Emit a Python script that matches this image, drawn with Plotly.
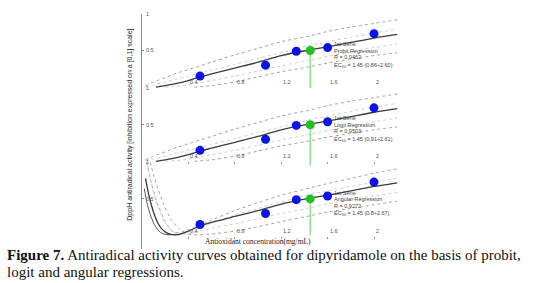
import plotly.graph_objects as go

# ---------------- data ----------------
conc = [0.5, 1.065, 1.33, 1.6, 2.0]           # mg/mL
inhib = [0.15, 0.30, 0.49, 0.54, 0.73]          # inhibition on [0,1] scale
ec50_x = 1.45
ec50_y = 0.5

x_ticks = [0.4, 0.8, 1.2, 1.6, 2.0]
x_ticktext = ["0.4", "0.8", "1.2", "1.6", "2"]
y_ticks = [0.5, 1.0]
y_ticktext = ["0.5", "1"]

# fitted curve (probit / logit) and its bands
fit_x = [0.12, 0.2, 0.3, 0.4, 0.5, 0.6, 0.8, 1.0, 1.2, 1.45, 1.6, 1.8, 2.0, 2.2]
fit_y = [0.0, 0.02, 0.05, 0.09, 0.14, 0.18, 0.26, 0.34, 0.43, 0.51, 0.55, 0.61, 0.67, 0.72]
band_x = [0.03, 0.1, 0.2, 0.3, 0.4, 0.5, 0.6, 0.8, 1.0, 1.2, 1.45, 1.6, 1.8, 2.0, 2.2]
outer_up = [0.02, 0.07, 0.13, 0.19, 0.24, 0.29, 0.34, 0.44, 0.53, 0.62, 0.70, 0.76, 0.82, 0.87, 0.92]
inner_up = [0.01, 0.03, 0.07, 0.11, 0.15, 0.19, 0.23, 0.31, 0.39, 0.47, 0.57, 0.62, 0.68, 0.74, 0.79]
inlow_x = [0.2, 0.3, 0.4, 0.5, 0.6, 0.8, 1.0, 1.2, 1.45, 1.6, 1.8, 2.0, 2.2]
inner_low = [0.0, 0.01, 0.03, 0.06, 0.09, 0.15, 0.22, 0.29, 0.37, 0.42, 0.48, 0.54, 0.59]
outlow_x = [0.45, 0.6, 0.8, 1.0, 1.2, 1.45, 1.6, 1.8, 2.0, 2.2]
outer_low = [0.0, 0.02, 0.07, 0.14, 0.21, 0.28, 0.33, 0.38, 0.43, 0.47]

# angular regression curves (fold back at low concentration)
ang_x = [0.03, 0.05, 0.08, 0.11, 0.14, 0.17, 0.2, 0.24, 0.28, 0.33, 0.4, 0.5, 0.6, 0.8, 1.0, 1.2, 1.45, 1.6, 1.8, 2.0, 2.2]
ang_y = [0.78, 0.62, 0.42, 0.27, 0.16, 0.09, 0.05, 0.02, 0.01, 0.02, 0.06, 0.13, 0.18, 0.26, 0.34, 0.43, 0.51, 0.55, 0.61, 0.67, 0.72]
ang2_x = [0.02, 0.04, 0.07, 0.1, 0.13, 0.16, 0.2, 0.25]
ang2_y = [0.64, 0.46, 0.29, 0.17, 0.09, 0.04, 0.015, 0.01]
ang_up_x = [0.04, 0.08, 0.13, 0.19, 0.24, 0.28, 0.33, 0.4, 0.5, 0.6, 0.8, 1.0, 1.2, 1.45, 1.6, 1.8, 2.0, 2.2]
ang_up = [1.0, 0.72, 0.45, 0.22, 0.09, 0.04, 0.04, 0.08, 0.14, 0.21, 0.34, 0.45, 0.55, 0.65, 0.71, 0.78, 0.85, 0.91]
ang_iup_x = [0.05, 0.09, 0.14, 0.2, 0.25, 0.3, 0.35, 0.42, 0.5, 0.6, 0.8, 1.0, 1.2, 1.45, 1.6, 1.8, 2.0, 2.2]
ang_iup = [0.95, 0.65, 0.38, 0.17, 0.07, 0.03, 0.03, 0.06, 0.11, 0.17, 0.28, 0.37, 0.46, 0.56, 0.61, 0.67, 0.73, 0.78]
ang_ilow_x = [0.3, 0.4, 0.5, 0.6, 0.8, 1.0, 1.2, 1.45, 1.6, 1.8, 2.0, 2.2]
ang_ilow = [0.0, 0.02, 0.06, 0.1, 0.16, 0.23, 0.3, 0.38, 0.43, 0.49, 0.54, 0.59]
ang_low_x = [0.07, 0.12, 0.18, 0.25, 0.32, 0.38, 0.44, 0.5, 0.6, 0.8, 1.0, 1.2, 1.45, 1.6, 1.8, 2.0, 2.2]
ang_low = [1.0, 0.72, 0.45, 0.22, 0.09, 0.03, 0.01, 0.01, 0.02, 0.06, 0.12, 0.19, 0.27, 0.32, 0.37, 0.42, 0.47]

panel_texts = [
    ["1st Serie", "Probit Regression", "R = 0.9462", "EC<sub>50</sub> = 1.45 (0.86÷2.60)"],
    ["1st Serie", "Logit Regression", "R = 0.9503", "EC<sub>50</sub> = 1.45 (0.91÷2.61)"],
    ["1st Serie", "Angular Regression", "R = 0.9272", "EC<sub>50</sub> = 1.45 (0.8÷2.67)"],
]

# ---------------- layout geometry ----------------
W, H = 534, 283
L, R = 142, 136
PXU_X = 116.0
PXU_Y = 74.0
bases = [85, 160, 235]
bottoms = [-0.06, -0.06, -0.18]

fig = go.Figure()

OUT_C = "#a2a2a2"
IN_C = "#cfcfc0"
FIT_C = "#3a3a3a"
TICK_FONT = dict(family="Liberation Sans, Arial", size=5.5, color="#555")


def add_line(x, y, k, color, dash, width, smoothing=0.7):
    fig.add_trace(go.Scatter(x=x, y=y, mode="lines", xaxis="x" if k == 1 else f"x{k}",
                             yaxis="y" if k == 1 else f"y{k}",
                             line=dict(color=color, dash=dash, width=width, shape="spline", smoothing=smoothing),
                             hoverinfo="skip", showlegend=False))


for i in range(3):
    k = i + 1
    if i < 2:
        add_line(band_x, outer_up, k, OUT_C, "dot", 1)
        add_line(band_x, inner_up, k, IN_C, "dot", 1)
        add_line(inlow_x, inner_low, k, IN_C, "dot", 1)
        add_line(outlow_x, outer_low, k, OUT_C, "dot", 1)
        add_line(fit_x, fit_y, k, FIT_C, "solid", 1.3)
    else:
        add_line(ang_up_x, ang_up, k, OUT_C, "dot", 1, 0.4)
        add_line(ang_iup_x, ang_iup, k, IN_C, "dot", 1, 0.4)
        add_line(ang_ilow_x, ang_ilow, k, IN_C, "dot", 1, 0.4)
        add_line(ang_low_x, ang_low, k, OUT_C, "dot", 1, 0.4)
        add_line(ang2_x, ang2_y, k, "#555555", "solid", 1.0, 0.4)
        add_line(ang_x, ang_y, k, FIT_C, "solid", 1.3, 0.4)
    xa = "x" if k == 1 else f"x{k}"
    ya = "y" if k == 1 else f"y{k}"
    # EC50 drop line
    fig.add_trace(go.Scatter(x=[ec50_x, ec50_x], y=[ec50_y, bottoms[i] if i < 2 else 0.0], mode="lines",
                             xaxis=xa, yaxis=ya, line=dict(color="#5fd35f", width=1),
                             hoverinfo="skip", showlegend=False))
    fig.add_trace(go.Scatter(x=conc, y=inhib, mode="markers", xaxis=xa, yaxis=ya,
                             marker=dict(color="#0a14e6", size=9, line=dict(width=0)),
                             hoverinfo="skip", showlegend=False))
    fig.add_trace(go.Scatter(x=[ec50_x], y=[ec50_y], mode="markers", xaxis=xa, yaxis=ya,
                             marker=dict(color="#1fc21f", size=9, line=dict(width=0)),
                             hoverinfo="skip", showlegend=False))

    # regression info text
    for j, t in enumerate(panel_texts[i]):
        fig.add_annotation(x=1.64, y=0.585 - j * 0.088 - (0.02 if j == 3 else 0), xref=xa, yref=ya,
                           text=t, showarrow=False, xanchor="left", yanchor="middle",
                           font=dict(family="Liberation Sans, Arial", size=5.5, color="#444"))

    # x tick labels, drawn just above each panel's baseline at the tick values
    for tv, tt in zip(x_ticks, x_ticktext):
        fig.add_annotation(x=tv, y=0.0, xref=xa, yref=ya, text=tt, showarrow=False,
                           xanchor="left", yanchor="bottom", xshift=0, yshift=0,
                           font=TICK_FONT)

layout = dict(
    width=W, height=H,
    margin=dict(l=L, r=R, t=0, b=0, pad=0),
    paper_bgcolor="white", plot_bgcolor="white",
    showlegend=False,
)

xrange = [0, (W - L - R) / PXU_X]
for i in range(3):
    k = i + 1
    base = bases[i]
    r0 = bottoms[i]
    top_px = base - PXU_Y
    bot_px = base - PXU_Y * r0
    dom = [1 - bot_px / H, 1 - top_px / H]
    ykey = "yaxis" if k == 1 else f"yaxis{k}"
    xkey = "xaxis" if k == 1 else f"xaxis{k}"
    layout[ykey] = dict(domain=dom, range=[r0, 1.0], anchor="x" if k == 1 else f"x{k}",
                        showline=True, linecolor="#8a8a8a", linewidth=1,
                        tickvals=y_ticks, ticktext=y_ticktext, ticks="inside", ticklen=2,
                        tickcolor="#8a8a8a", ticklabelposition="inside", ticklabeloverflow="allow",
                        tickfont=TICK_FONT,
                        showgrid=False, zeroline=False, fixedrange=True)
    xa = dict(range=xrange, anchor="free", position=1 - base / H,
              showline=False, showgrid=False, zeroline=False,
              tickvals=x_ticks, ticks="outside", ticklen=2, tickcolor="#999",
              showticklabels=False, fixedrange=True)
    if k != 1:
        xa["matches"] = "x"
    layout[xkey] = xa

fig.update_layout(**layout)

# axis titles and caption
fig.add_annotation(xref="paper", yref="paper", x=(130 - L) / (W - L - R), y=1 - 123 / H,
                   text="DppH antiradical activity [inhibition expressed on a [0,1] scale]",
                   textangle=-90, showarrow=False, xanchor="center", yanchor="middle",
                   font=dict(family="Liberation Sans, Arial", size=7, color="#222"))
fig.add_annotation(xref="paper", yref="paper", x=(258 - L) / (W - L - R), y=1 - 241 / H,
                   text="Antioxidant concentration(mg/mL)", showarrow=False,
                   xanchor="center", yanchor="middle",
                   font=dict(family="Liberation Serif, Times New Roman", size=7.5, color="#222"))
fig.add_annotation(xref="paper", yref="paper", x=(5 - L) / (W - L - R), y=1 - 255 / H,
                   text="<b>Figure 7.</b> Antiradical activity curves obtained for dipyridamole on the basis of probit,",
                   showarrow=False, xanchor="left", yanchor="middle",
                   font=dict(family="Liberation Serif, Times New Roman", size=15, color="#111"))
fig.add_annotation(xref="paper", yref="paper", x=(5 - L) / (W - L - R), y=1 - 272 / H,
                   text="logit and angular regressions.",
                   showarrow=False, xanchor="left", yanchor="middle",
                   font=dict(family="Liberation Serif, Times New Roman", size=15, color="#111"))

fig.write_html("out.html", config={"displayModeBar": False},
               post_script="document.body.style.margin='0px';document.body.style.overflow='hidden';")
